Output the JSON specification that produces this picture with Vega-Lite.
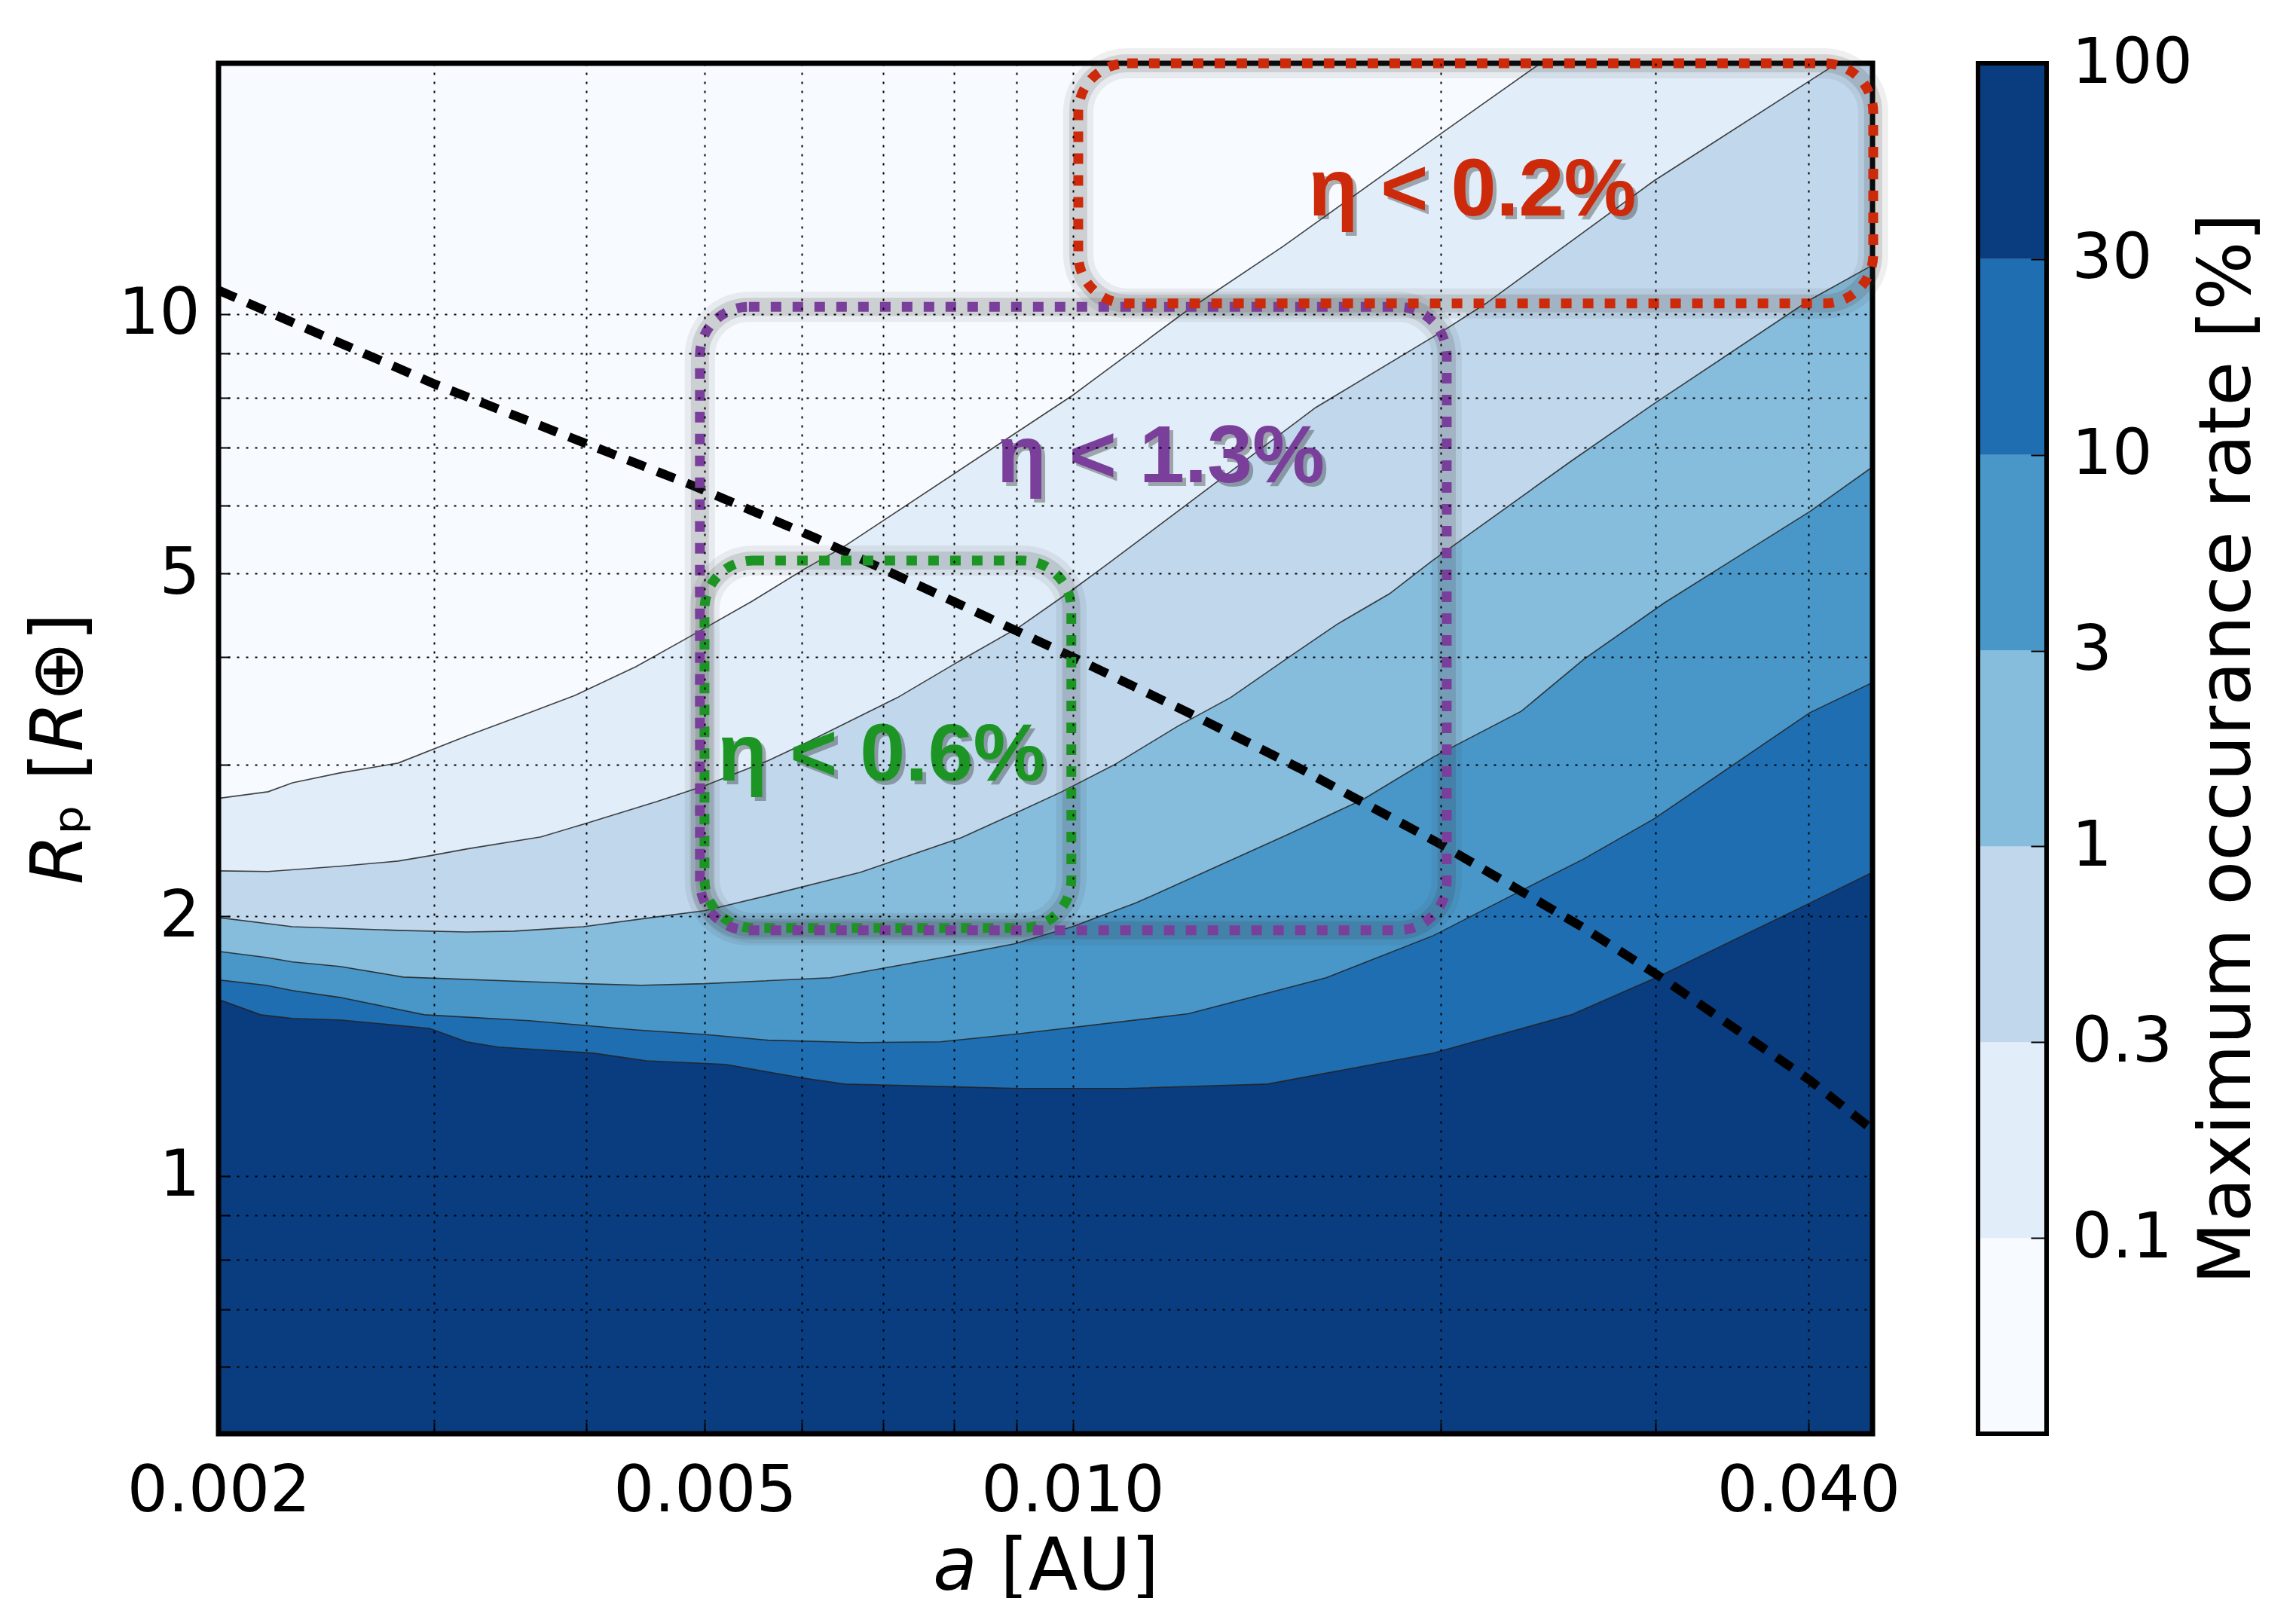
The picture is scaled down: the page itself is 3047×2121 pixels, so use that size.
{
  "$schema": "https://vega.github.io/schema/vega-lite/v6.json",
  "background": "white",
  "padding": {"left": 31, "top": 42, "right": 5, "bottom": 5},
  "spacing": 100,
  "config": {
    "font": "DejaVu Sans",
    "view": {"stroke": null, "fill": "#f7fbff"},
    "axis": {"labelFont": "DejaVu Sans", "titleFont": "DejaVu Sans", "titleFontWeight": "normal", "labelColor": "black", "titleColor": "black", "labelLimit": 0}
  },
  "datasets": {
    "contours": [
      {"level": "0.1", "a": 0.002, "rp": 2.742}, {"level": "0.1", "a": 0.002196, "rp": 2.791}, {"level": "0.1", "a": 0.002299, "rp": 2.859}, {"level": "0.1", "a": 0.002514, "rp": 2.935}, {"level": "0.1", "a": 0.002805, "rp": 3.013}, {"level": "0.1", "a": 0.003191, "rp": 3.239}, {"level": "0.1", "a": 0.003595, "rp": 3.448}, {"level": "0.1", "a": 0.003915, "rp": 3.611}, {"level": "0.1", "a": 0.004393, "rp": 3.899}, {"level": "0.1", "a": 0.004898, "rp": 4.251}, {"level": "0.1", "a": 0.005466, "rp": 4.644}, {"level": "0.1", "a": 0.006038, "rp": 5.065}, {"level": "0.1", "a": 0.00648, "rp": 5.359}, {"level": "0.1", "a": 0.009994, "rp": 8.046}, {"level": "0.1", "a": 0.012312, "rp": 10.02}, {"level": "0.1", "a": 0.014871, "rp": 11.99}, {"level": "0.1", "a": 0.020065, "rp": 16.24}, {"level": "0.1", "a": 0.023998, "rp": 19.43}, {"level": "0.1", "a": 0.045144, "rp": 36.55},
      {"level": "0.3", "a": 0.002, "rp": 2.259}, {"level": "0.3", "a": 0.002196, "rp": 2.255}, {"level": "0.3", "a": 0.002514, "rp": 2.287}, {"level": "0.3", "a": 0.002805, "rp": 2.319}, {"level": "0.3", "a": 0.002977, "rp": 2.352}, {"level": "0.3", "a": 0.003191, "rp": 2.395}, {"level": "0.3", "a": 0.003673, "rp": 2.474}, {"level": "0.3", "a": 0.003977, "rp": 2.559}, {"level": "0.3", "a": 0.004571, "rp": 2.719}, {"level": "0.3", "a": 0.004997, "rp": 2.836}, {"level": "0.3", "a": 0.005631, "rp": 3.032}, {"level": "0.3", "a": 0.006073, "rp": 3.188}, {"level": "0.3", "a": 0.007189, "rp": 3.59}, {"level": "0.3", "a": 0.00803, "rp": 3.938}, {"level": "0.3", "a": 0.009049, "rp": 4.338}, {"level": "0.3", "a": 0.009994, "rp": 4.786}, {"level": "0.3", "a": 0.010654, "rp": 5.116}, {"level": "0.3", "a": 0.012559, "rp": 6.095}, {"level": "0.3", "a": 0.015807, "rp": 7.791}, {"level": "0.3", "a": 0.020065, "rp": 9.55}, {"level": "0.3", "a": 0.021788, "rp": 10.29}, {"level": "0.3", "a": 0.029902, "rp": 14.28}, {"level": "0.3", "a": 0.040116, "rp": 18.66}, {"level": "0.3", "a": 0.045144, "rp": 20.77},
      {"level": "1", "a": 0.002, "rp": 1.994}, {"level": "1", "a": 0.002299, "rp": 1.946}, {"level": "1", "a": 0.002805, "rp": 1.927}, {"level": "1", "a": 0.003191, "rp": 1.919}, {"level": "1", "a": 0.00349, "rp": 1.923}, {"level": "1", "a": 0.003977, "rp": 1.946}, {"level": "1", "a": 0.004571, "rp": 1.998}, {"level": "1", "a": 0.004997, "rp": 2.031}, {"level": "1", "a": 0.005631, "rp": 2.115}, {"level": "1", "a": 0.006705, "rp": 2.251}, {"level": "1", "a": 0.00811, "rp": 2.469}, {"level": "1", "a": 0.009049, "rp": 2.649}, {"level": "1", "a": 0.009797, "rp": 2.791}, {"level": "1", "a": 0.010822, "rp": 3.001}, {"level": "1", "a": 0.012191, "rp": 3.325}, {"level": "1", "a": 0.013465, "rp": 3.59}, {"level": "1", "a": 0.015041, "rp": 4.002}, {"level": "1", "a": 0.016449, "rp": 4.364}, {"level": "1", "a": 0.018168, "rp": 4.738}, {"level": "1", "a": 0.01967, "rp": 5.168}, {"level": "1", "a": 0.025584, "rp": 6.753}, {"level": "1", "a": 0.029902, "rp": 7.87}, {"level": "1", "a": 0.040116, "rp": 10.39}, {"level": "1", "a": 0.045144, "rp": 11.4},
      {"level": "3", "a": 0.002, "rp": 1.822}, {"level": "3", "a": 0.002187, "rp": 1.793}, {"level": "3", "a": 0.002299, "rp": 1.771}, {"level": "3", "a": 0.002514, "rp": 1.75}, {"level": "3", "a": 0.002833, "rp": 1.701}, {"level": "3", "a": 0.003977, "rp": 1.671}, {"level": "3", "a": 0.004436, "rp": 1.664}, {"level": "3", "a": 0.004997, "rp": 1.671}, {"level": "3", "a": 0.006335, "rp": 1.698}, {"level": "3", "a": 0.00803, "rp": 1.804}, {"level": "3", "a": 0.008959, "rp": 1.859}, {"level": "3", "a": 0.009994, "rp": 1.946}, {"level": "3", "a": 0.011261, "rp": 2.073}, {"level": "3", "a": 0.012812, "rp": 2.251}, {"level": "3", "a": 0.015041, "rp": 2.494}, {"level": "3", "a": 0.017287, "rp": 2.735}, {"level": "3", "a": 0.019726, "rp": 3.062}, {"level": "3", "a": 0.023294, "rp": 3.462}, {"level": "3", "a": 0.026208, "rp": 3.978}, {"level": "3", "a": 0.030504, "rp": 4.625}, {"level": "3", "a": 0.040116, "rp": 5.902}, {"level": "3", "a": 0.045144, "rp": 6.65},
      {"level": "10", "a": 0.002, "rp": 1.688}, {"level": "10", "a": 0.002187, "rp": 1.664}, {"level": "10", "a": 0.002299, "rp": 1.641}, {"level": "10", "a": 0.002514, "rp": 1.611}, {"level": "10", "a": 0.002948, "rp": 1.538}, {"level": "10", "a": 0.003595, "rp": 1.514}, {"level": "10", "a": 0.004393, "rp": 1.477}, {"level": "10", "a": 0.004997, "rp": 1.459}, {"level": "10", "a": 0.005631, "rp": 1.437}, {"level": "10", "a": 0.006705, "rp": 1.428}, {"level": "10", "a": 0.007794, "rp": 1.431}, {"level": "10", "a": 0.009049, "rp": 1.462}, {"level": "10", "a": 0.012435, "rp": 1.542}, {"level": "10", "a": 0.016125, "rp": 1.698}, {"level": "10", "a": 0.019726, "rp": 1.9}, {"level": "10", "a": 0.023064, "rp": 2.128}, {"level": "10", "a": 0.026208, "rp": 2.333}, {"level": "10", "a": 0.029902, "rp": 2.596}, {"level": "10", "a": 0.040116, "rp": 3.448}, {"level": "10", "a": 0.045144, "rp": 3.737},
      {"level": "30", "a": 0.002, "rp": 1.602}, {"level": "30", "a": 0.002165, "rp": 1.538}, {"level": "30", "a": 0.002299, "rp": 1.523}, {"level": "30", "a": 0.002514, "rp": 1.517}, {"level": "30", "a": 0.002977, "rp": 1.483}, {"level": "30", "a": 0.003191, "rp": 1.431}, {"level": "30", "a": 0.003387, "rp": 1.411}, {"level": "30", "a": 0.004056, "rp": 1.388}, {"level": "30", "a": 0.004481, "rp": 1.36}, {"level": "30", "a": 0.0052, "rp": 1.347}, {"level": "30", "a": 0.005631, "rp": 1.32}, {"level": "30", "a": 0.006013, "rp": 1.299}, {"level": "30", "a": 0.006508, "rp": 1.278}, {"level": "30", "a": 0.009049, "rp": 1.263}, {"level": "30", "a": 0.01104, "rp": 1.263}, {"level": "30", "a": 0.014434, "rp": 1.278}, {"level": "30", "a": 0.019726, "rp": 1.388}, {"level": "30", "a": 0.025584, "rp": 1.538}, {"level": "30", "a": 0.030202, "rp": 1.705}, {"level": "30", "a": 0.040116, "rp": 2.073}, {"level": "30", "a": 0.045144, "rp": 2.251}
    ],
    "limit": [
      {"a": 0.002, "rp": 10.66}, {"a": 0.003007, "rp": 8.293}, {"a": 0.004898, "rp": 6.319}, {"a": 0.006156, "rp": 5.501}, {"a": 0.00803, "rp": 4.625}, {"a": 0.009994, "rp": 4.002}, {"a": 0.012435, "rp": 3.448}, {"a": 0.015339, "rp": 2.971}, {"a": 0.020065, "rp": 2.42}, {"a": 0.026208, "rp": 1.939}, {"a": 0.030202, "rp": 1.705}, {"a": 0.040116, "rp": 1.291}, {"a": 0.045144, "rp": 1.131}
    ],
    "boxes": [
      {"box": "0.6%", "a": 0.004997, "a2": 0.009975, "rp": 1.939, "rp2": 5.178},
      {"box": "1.3%", "a": 0.004954, "a2": 0.020236, "rp": 1.927, "rp2": 10.2},
      {"box": "0.2%", "a": 0.010106, "a2": 0.0452, "rp": 10.29, "rp2": 19.55}
    ],
    "labels": [
      {"box": "0.2%", "text": "η < 0.2%", "a": 0.021238, "rp": 13.02},
      {"box": "1.3%", "text": "η < 1.3%", "a": 0.011806, "rp": 6.383},
      {"box": "0.6%", "text": "η < 0.6%", "a": 0.006976, "rp": 2.876}
    ],
    "frame": [
      {"a": 0.002, "a2": 0.04514, "rp": 0.502, "rp2": 19.55}
    ],
    "bar": [
      {"level": "0", "lo": 0, "hi": 1}, {"level": "0.1", "lo": 1, "hi": 2}, {"level": "0.3", "lo": 2, "hi": 3}, {"level": "1", "lo": 3, "hi": 4}, {"level": "3", "lo": 4, "hi": 5}, {"level": "10", "lo": 5, "hi": 6}, {"level": "30", "lo": 6, "hi": 7}
    ]
  },
  "hconcat": [
    {
      "width": 2195,
      "height": 1819,
      "layer": [
        {"data": {"name": "contours"}, "transform": [{"filter": "datum.level == '0.1'"}], "mark": {"type": "area", "clip": true},
         "encoding": {
           "x": {
             "field": "a", "type": "quantitative",
             "scale": {"type": "log", "domain": [0.002, 0.04514], "nice": false, "zero": false},
             "axis": {
               "values": [0.002, 0.003, 0.004, 0.005, 0.006, 0.007, 0.008, 0.009, 0.01, 0.02, 0.03, 0.04],
               "labelExpr": "datum.value==0.002?'0.002':datum.value==0.005?'0.005':datum.value==0.01?'0.010':datum.value==0.04?'0.040':''",
               "title": "𝘢 [AU]",
               "grid": true, "gridColor": "black", "gridDash": [3, 9], "gridWidth": 2, "gridOpacity": 1,
               "domain": false,
               "ticks": true, "tickSize": -15, "tickColor": "black", "tickWidth": 2,
               "labelFontSize": 85, "labelPadding": 50, "labelOverlap": false, "labelFlush": false, "labelBound": false, "labelLimit": 0,
               "titleFontSize": 96, "titlePadding": 11,
               "zindex": 1
             }
           },
           "y": {
             "field": "rp", "type": "quantitative", "stack": null,
             "scale": {"type": "log", "domain": [0.502, 19.55], "nice": false, "zero": false},
             "axis": {
               "values": [0.6, 0.7, 0.8, 0.9, 1, 2, 3, 4, 5, 6, 7, 8, 9, 10],
               "labelExpr": "(datum.value==1||datum.value==2||datum.value==5||datum.value==10) ? ''+datum.value : ''",
               "title": "𝘙ₚ [𝘙⊕]",
               "grid": true, "gridColor": "black", "gridDash": [3, 9], "gridWidth": 2, "gridOpacity": 1,
               "domain": false,
               "ticks": true, "tickSize": -15, "tickColor": "black", "tickWidth": 2,
               "labelFontSize": 85, "labelPadding": 40, "labelOverlap": false, "labelFlush": false, "labelBound": false, "labelLimit": 0,
               "titleFontSize": 96, "titlePadding": 28,
               "zindex": 1
             }
           },
           "y2": {"datum": 0.5},
           "color": {"field": "level", "type": "nominal", "scale": {"domain": ["0", "0.1", "0.3", "1", "3", "10", "30"], "range": ["#f7fbff", "#e1edf8", "#c0d7ec", "#86bcdc", "#4997c9", "#1f6eb1", "#0a3d7f"]}, "legend": null}
         }},
        {"data": {"name": "contours"}, "transform": [{"filter": "datum.level == '0.3'"}], "mark": {"type": "area", "clip": true},
         "encoding": {"x": {"field": "a", "type": "quantitative"}, "y": {"field": "rp", "type": "quantitative", "stack": null}, "y2": {"datum": 0.5}, "color": {"field": "level", "type": "nominal", "legend": null}}},
        {"data": {"name": "contours"}, "transform": [{"filter": "datum.level == '1'"}], "mark": {"type": "area", "clip": true},
         "encoding": {"x": {"field": "a", "type": "quantitative"}, "y": {"field": "rp", "type": "quantitative", "stack": null}, "y2": {"datum": 0.5}, "color": {"field": "level", "type": "nominal", "legend": null}}},
        {"data": {"name": "contours"}, "transform": [{"filter": "datum.level == '3'"}], "mark": {"type": "area", "clip": true},
         "encoding": {"x": {"field": "a", "type": "quantitative"}, "y": {"field": "rp", "type": "quantitative", "stack": null}, "y2": {"datum": 0.5}, "color": {"field": "level", "type": "nominal", "legend": null}}},
        {"data": {"name": "contours"}, "transform": [{"filter": "datum.level == '10'"}], "mark": {"type": "area", "clip": true},
         "encoding": {"x": {"field": "a", "type": "quantitative"}, "y": {"field": "rp", "type": "quantitative", "stack": null}, "y2": {"datum": 0.5}, "color": {"field": "level", "type": "nominal", "legend": null}}},
        {"data": {"name": "contours"}, "transform": [{"filter": "datum.level == '30'"}], "mark": {"type": "area", "clip": true},
         "encoding": {"x": {"field": "a", "type": "quantitative"}, "y": {"field": "rp", "type": "quantitative", "stack": null}, "y2": {"datum": 0.5}, "color": {"field": "level", "type": "nominal", "legend": null}}},
        {"data": {"name": "contours"}, "mark": {"type": "line", "clip": true, "color": "#222222", "strokeWidth": 1.6, "opacity": 0.85},
         "encoding": {"x": {"field": "a", "type": "quantitative"}, "y": {"field": "rp", "type": "quantitative"}, "detail": {"field": "level", "type": "nominal"}}},
        {"data": {"name": "limit"}, "mark": {"type": "line", "clip": true, "color": "black", "strokeWidth": 12, "strokeDash": [25, 17]},
         "encoding": {"x": {"field": "a", "type": "quantitative"}, "y": {"field": "rp", "type": "quantitative"}}},
        {"data": {"name": "frame"}, "mark": {"type": "rect", "fill": "white", "fillOpacity": 0, "stroke": "black", "strokeWidth": 7},
         "encoding": {"x": {"field": "a", "type": "quantitative"}, "x2": {"field": "a2"}, "y": {"field": "rp", "type": "quantitative"}, "y2": {"field": "rp2"}}},
        {"data": {"name": "boxes"}, "mark": {"type": "rect", "fill": "white", "fillOpacity": 0, "stroke": "#333333", "strokeOpacity": 0.08, "strokeWidth": 40, "cornerRadius": 65},
         "encoding": {"x": {"field": "a", "type": "quantitative"}, "x2": {"field": "a2"}, "y": {"field": "rp", "type": "quantitative"}, "y2": {"field": "rp2"}}},
        {"data": {"name": "boxes"}, "mark": {"type": "rect", "fill": "white", "fillOpacity": 0, "stroke": "#333333", "strokeOpacity": 0.15, "strokeWidth": 24, "cornerRadius": 65},
         "encoding": {"x": {"field": "a", "type": "quantitative"}, "x2": {"field": "a2"}, "y": {"field": "rp", "type": "quantitative"}, "y2": {"field": "rp2"}}},
        {"data": {"name": "boxes"}, "mark": {"type": "rect", "fill": "white", "fillOpacity": 0, "strokeWidth": 13, "strokeDash": [14, 15], "cornerRadius": 65},
         "encoding": {"x": {"field": "a", "type": "quantitative"}, "x2": {"field": "a2"}, "y": {"field": "rp", "type": "quantitative"}, "y2": {"field": "rp2"},
           "stroke": {"field": "box", "type": "nominal", "scale": {"domain": ["0.2%", "1.3%", "0.6%"], "range": ["#cc2a0a", "#7a3f9a", "#1c9524"]}, "legend": null}}},
        {"data": {"name": "labels"}, "mark": {"type": "text", "font": "Liberation Sans", "fontWeight": "bold", "fontSize": 108, "align": "center", "baseline": "alphabetic", "dx": 5, "dy": 5, "color": "#222222", "opacity": 0.35},
         "encoding": {"x": {"field": "a", "type": "quantitative"}, "y": {"field": "rp", "type": "quantitative"}, "text": {"field": "text"}}},
        {"data": {"name": "labels"}, "mark": {"type": "text", "font": "Liberation Sans", "fontWeight": "bold", "fontSize": 108, "align": "center", "baseline": "alphabetic"},
         "encoding": {"x": {"field": "a", "type": "quantitative"}, "y": {"field": "rp", "type": "quantitative"}, "text": {"field": "text"},
           "fill": {"field": "box", "type": "nominal", "scale": {"domain": ["0.2%", "1.3%", "0.6%"], "range": ["#cc2a0a", "#7a3f9a", "#1c9524"]}, "legend": null}}}
      ]
    },
    {
      "width": 91,
      "height": 1819,
      "data": {"name": "bar"},
      "layer": [
        {"mark": {"type": "rect"},
         "encoding": {
           "x": {"datum": 0, "type": "quantitative", "scale": {"domain": [0, 1], "nice": false}, "axis": null},
           "x2": {"datum": 1},
           "y": {"field": "lo", "type": "quantitative", "scale": {"domain": [0, 7], "nice": false, "zero": false},
             "axis": {
               "orient": "right",
               "values": [1, 2, 3, 4, 5, 6, 7],
               "labelExpr": "['','0.1','0.3','1','3','10','30','100'][datum.value]",
               "grid": false, "domain": false,
               "ticks": true, "tickSize": -21, "tickColor": "black", "tickWidth": 2,
               "labelFontSize": 84, "labelPadding": 54, "labelAlign": "left", "labelBaseline": "middle", "labelOverlap": false, "labelFlush": false, "labelBound": false, "labelLimit": 0,
               "title": "Maximum occurance rate [%]", "titleFontSize": 96, "titleAngle": 270, "titleBaseline": "top", "titlePadding": 0,
               "zindex": 1
             }},
           "y2": {"field": "hi"},
           "color": {"field": "level", "type": "nominal", "scale": {"domain": ["0", "0.1", "0.3", "1", "3", "10", "30"], "range": ["#f7fbff", "#e1edf8", "#c0d7ec", "#86bcdc", "#4997c9", "#1f6eb1", "#0a3d7f"]}, "legend": null}
         }},
        {"mark": {"type": "rect", "fill": "white", "fillOpacity": 0, "stroke": "black", "strokeWidth": 6},
         "data": {"values": [{}]},
         "encoding": {"x": {"datum": 0, "type": "quantitative"}, "x2": {"datum": 1}, "y": {"datum": 0, "type": "quantitative"}, "y2": {"datum": 7}}}
      ]
    }
  ]
}
